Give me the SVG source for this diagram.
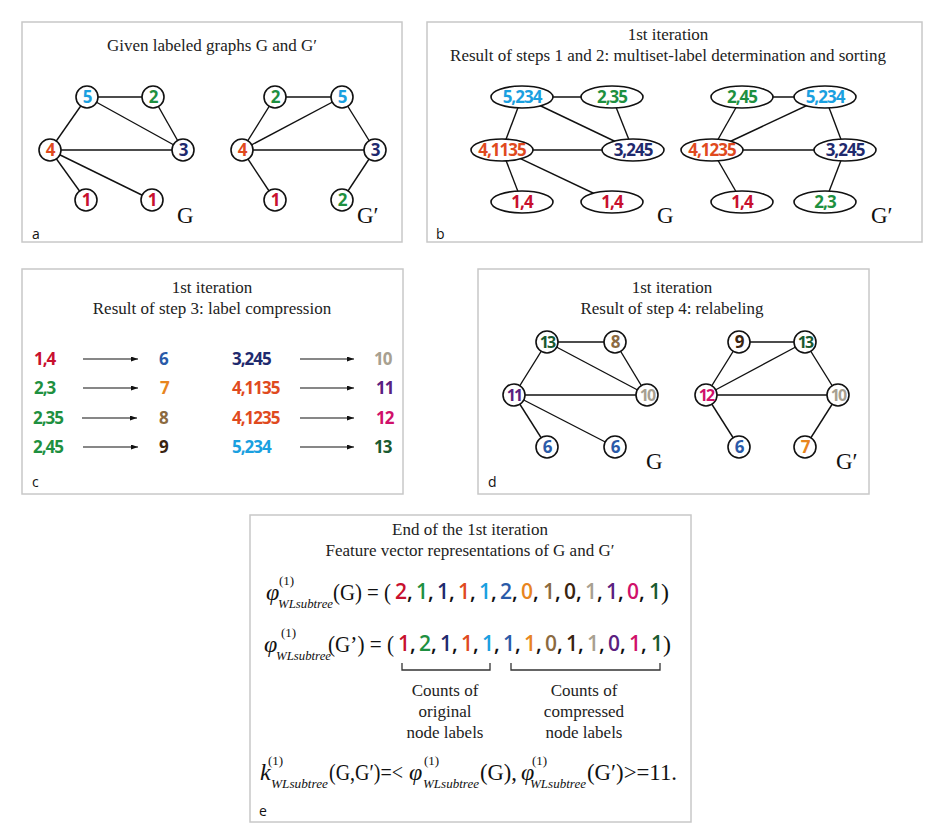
<svg xmlns="http://www.w3.org/2000/svg" width="947" height="838" viewBox="0 0 947 838">
<style>
.panel{fill:#fff;stroke:#c8c8c8;stroke-width:1.5}
.t{font-family:"Liberation Serif",serif;font-size:17px;fill:#222;text-anchor:middle}
.g{font-family:"Liberation Serif",serif;font-size:23px;fill:#111}
.l{font-family:"Open Sans",sans-serif;font-size:14px;fill:#111}
.n circle,.n ellipse{fill:#fff;stroke:#111;stroke-width:1.6}
.n text{font-family:"Open Sans",sans-serif;font-weight:bold;font-size:17px;text-anchor:middle;letter-spacing:-1px}
.n text.w{font-size:16px;letter-spacing:-1.8px}
.e line{stroke:#111;stroke-width:1.4}
.e line.ar{stroke-width:1.1}
.c1{fill:#c8102e}.c2{fill:#1e9040}.c3{fill:#1f2a6e}.c4{fill:#e04a1e}.c5{fill:#1aa0e0}
.c6{fill:#2a5aa8}.c7{fill:#e8851e}.c8{fill:#8b6a40}.c9{fill:#3a2410}.c10{fill:#a8a090}
.c11{fill:#5a2080}.c12{fill:#d0106a}.c13{fill:#1a5a30}
.m{font-family:"Open Sans",sans-serif;font-weight:bold;font-size:17px;letter-spacing:-1px}
.v{font-family:"Open Sans",sans-serif;font-weight:600;font-size:21px}
.s{font-family:"Liberation Serif",serif;font-size:24px;fill:#111}
.ph{font-family:"Liberation Serif",serif;font-style:italic;font-size:24px;fill:#111}
.sup{font-family:"Liberation Serif",serif;font-size:13px;fill:#111}
.sub{font-family:"Liberation Serif",serif;font-style:italic;font-size:13px;fill:#111}
</style>
<defs><marker id="ah" markerUnits="userSpaceOnUse" markerWidth="7" markerHeight="5" refX="7" refY="2.5" orient="auto"><path d="M0,0L7,2.5L0,5z" fill="#111"/></marker></defs>
<rect class="panel" x="22" y="22" width="380" height="220"/>
<rect class="panel" x="427" y="22" width="495" height="220"/>
<rect class="panel" x="22" y="269" width="381" height="225"/>
<rect class="panel" x="478" y="269" width="391" height="225"/>
<rect class="panel" x="250" y="515" width="441" height="307"/>

<g id="panel-a">
<text class="t" x="212" y="51">Given labeled graphs G and G′</text>
<text class="l" x="32" y="239">a</text>
<text class="g" x="177" y="223">G</text><text class="g" x="357" y="223">G′</text>
</g>
<g id="edges" class="e">
<line x1="87" y1="97" x2="153" y2="97"/><line x1="87" y1="97" x2="50" y2="150"/><line x1="87" y1="97" x2="183" y2="150"/><line x1="153" y1="97" x2="183" y2="150"/><line x1="50" y1="150" x2="183" y2="150"/><line x1="50" y1="150" x2="86" y2="200"/><line x1="50" y1="150" x2="152" y2="200"/>
<line x1="275" y1="97" x2="342" y2="97"/><line x1="275" y1="97" x2="242" y2="150"/><line x1="342" y1="97" x2="242" y2="150"/><line x1="342" y1="97" x2="375" y2="150"/><line x1="242" y1="150" x2="375" y2="150"/><line x1="242" y1="150" x2="275" y2="200"/><line x1="375" y1="150" x2="342" y2="200"/>
<line x1="522" y1="97" x2="612" y2="97"/><line x1="522" y1="97" x2="502" y2="150"/><line x1="522" y1="97" x2="633" y2="150"/><line x1="612" y1="97" x2="633" y2="150"/><line x1="502" y1="150" x2="633" y2="150"/><line x1="502" y1="150" x2="522" y2="202"/><line x1="502" y1="150" x2="612" y2="202"/>
<line x1="742" y1="97" x2="825" y2="97"/><line x1="742" y1="97" x2="712" y2="150"/><line x1="825" y1="97" x2="712" y2="150"/><line x1="825" y1="97" x2="845" y2="150"/><line x1="712" y1="150" x2="845" y2="150"/><line x1="712" y1="150" x2="742" y2="202"/><line x1="845" y1="150" x2="825" y2="202"/>
<line x1="547" y1="342" x2="615" y2="342"/><line x1="547" y1="342" x2="514" y2="395"/><line x1="547" y1="342" x2="647" y2="395"/><line x1="615" y1="342" x2="647" y2="395"/><line x1="514" y1="395" x2="647" y2="395"/><line x1="514" y1="395" x2="547" y2="447"/><line x1="514" y1="395" x2="615" y2="447"/>
<line x1="739" y1="342" x2="805" y2="342"/><line x1="739" y1="342" x2="706" y2="395"/><line x1="805" y1="342" x2="706" y2="395"/><line x1="805" y1="342" x2="838" y2="395"/><line x1="706" y1="395" x2="838" y2="395"/><line x1="706" y1="395" x2="739" y2="447"/><line x1="838" y1="395" x2="805" y2="447"/>
<line class="ar" x1="83" y1="359" x2="138" y2="359" marker-end="url(#ah)"/><line class="ar" x1="83" y1="388" x2="138" y2="388" marker-end="url(#ah)"/><line class="ar" x1="82" y1="418" x2="137" y2="418" marker-end="url(#ah)"/><line class="ar" x1="83" y1="447" x2="138" y2="447" marker-end="url(#ah)"/>
<line class="ar" x1="300" y1="359" x2="354" y2="359" marker-end="url(#ah)"/><line class="ar" x1="300" y1="388" x2="354" y2="388" marker-end="url(#ah)"/><line class="ar" x1="300" y1="418" x2="354" y2="418" marker-end="url(#ah)"/><line class="ar" x1="300" y1="447" x2="354" y2="447" marker-end="url(#ah)"/>
</g>
<g id="a-G" class="n">
<g id="a5"><circle cx="87" cy="97" r="11"/><text class="c5" x="87" y="103">5</text></g>
<g id="a2"><circle cx="153" cy="97" r="11"/><text class="c2" x="153" y="103">2</text></g>
<g id="a4"><circle cx="50" cy="150" r="11"/><text class="c4" x="50" y="156">4</text></g>
<g id="a3"><circle cx="183" cy="150" r="11"/><text class="c3" x="183" y="156">3</text></g>
<g id="a1"><circle cx="86" cy="200" r="11"/><text class="c1" x="86" y="206">1</text></g>
<g id="a1b"><circle cx="152" cy="200" r="11"/><text class="c1" x="152" y="206">1</text></g>
</g>
<g id="a-Gp" class="n">
<g id="ap2"><circle cx="275" cy="97" r="11"/><text class="c2" x="275" y="103">2</text></g>
<g id="ap5"><circle cx="342" cy="97" r="11"/><text class="c5" x="342" y="103">5</text></g>
<g id="ap4"><circle cx="242" cy="150" r="11"/><text class="c4" x="242" y="156">4</text></g>
<g id="ap3"><circle cx="375" cy="150" r="11"/><text class="c3" x="375" y="156">3</text></g>
<g id="ap1"><circle cx="275" cy="200" r="11"/><text class="c1" x="275" y="206">1</text></g>
<g id="ap2b"><circle cx="342" cy="200" r="11"/><text class="c2" x="342" y="206">2</text></g>
</g>

<g id="panel-b">
<text class="t" x="668" y="40">1st iteration</text>
<text class="t" x="668" y="61">Result of steps 1 and 2: multiset-label determination and sorting</text>
<text class="l" x="436" y="239">b</text>
<text class="g" x="657" y="223">G</text><text class="g" x="871" y="223">G′</text>
</g>
<g id="b-G" class="n">
<g id="b1"><ellipse cx="522" cy="97" rx="31" ry="11"/><text class="c5" x="522" y="103">5,234</text></g>
<g id="b2"><ellipse cx="612" cy="97" rx="31" ry="11"/><text class="c2" x="612" y="103">2,35</text></g>
<g id="b3"><ellipse cx="502" cy="150" rx="31" ry="11"/><text class="c4" x="502" y="156">4,1135</text></g>
<g id="b4"><ellipse cx="633" cy="150" rx="31" ry="11"/><text class="c3" x="633" y="156">3,245</text></g>
<g id="b5"><ellipse cx="522" cy="202" rx="31" ry="11"/><text class="c1" x="522" y="208">1,4</text></g>
<g id="b6"><ellipse cx="612" cy="202" rx="31" ry="11"/><text class="c1" x="612" y="208">1,4</text></g>
</g>
<g id="b-Gp" class="n">
<g id="bp1"><ellipse cx="742" cy="97" rx="31" ry="11"/><text class="c2" x="742" y="103">2,45</text></g>
<g id="bp2"><ellipse cx="825" cy="97" rx="31" ry="11"/><text class="c5" x="825" y="103">5,234</text></g>
<g id="bp3"><ellipse cx="712" cy="150" rx="31" ry="11"/><text class="c4" x="712" y="156">4,1235</text></g>
<g id="bp4"><ellipse cx="845" cy="150" rx="31" ry="11"/><text class="c3" x="845" y="156">3,245</text></g>
<g id="bp5"><ellipse cx="742" cy="202" rx="31" ry="11"/><text class="c1" x="742" y="208">1,4</text></g>
<g id="bp6"><ellipse cx="825" cy="202" rx="31" ry="11"/><text class="c2" x="825" y="208">2,3</text></g>
</g>

<g id="panel-c">
<text class="t" x="212" y="293">1st iteration</text>
<text class="t" x="212" y="314">Result of step 3: label compression</text>
<text class="l" x="32" y="487">c</text>
<g class="m">
<text class="c1" x="34" y="365">1,4</text><text class="c2" x="34" y="394">2,3</text><text class="c2" x="33" y="424">2,35</text><text class="c2" x="33" y="453">2,45</text>
<text class="c6" x="159" y="365">6</text><text class="c7" x="160" y="394">7</text><text class="c8" x="159" y="424">8</text><text class="c9" x="159" y="453">9</text>
<text class="c3" x="232" y="365">3,245</text><text class="c4" x="232" y="394">4,1135</text><text class="c4" x="232" y="424">4,1235</text><text class="c5" x="232" y="453">5,234</text>
<text class="c10" x="374" y="365">10</text><text class="c11" x="376" y="394">11</text><text class="c12" x="376" y="424">12</text><text class="c13" x="374" y="453">13</text>
</g>
</g>

<g id="panel-d">
<text class="t" x="672" y="293">1st iteration</text>
<text class="t" x="672" y="314">Result of step 4: relabeling</text>
<text class="l" x="488" y="487">d</text>
<text class="g" x="646" y="469">G</text><text class="g" x="836" y="469">G′</text>
</g>
<g id="d-G" class="n">
<g id="d13"><circle cx="547" cy="342" r="11"/><text class="c13 w" x="547" y="348">13</text></g>
<g id="d8"><circle cx="615" cy="342" r="11"/><text class="c8" x="615" y="348">8</text></g>
<g id="d11"><circle cx="514" cy="395" r="11"/><text class="c11 w" x="514" y="401">11</text></g>
<g id="d10"><circle cx="647" cy="395" r="11"/><text class="c10 w" x="647" y="401">10</text></g>
<g id="d6"><circle cx="547" cy="447" r="11"/><text class="c6" x="547" y="453">6</text></g>
<g id="d6b"><circle cx="615" cy="447" r="11"/><text class="c6" x="615" y="453">6</text></g>
</g>
<g id="d-Gp" class="n">
<g id="dp9"><circle cx="739" cy="342" r="11"/><text class="c9" x="739" y="348">9</text></g>
<g id="dp13"><circle cx="805" cy="342" r="11"/><text class="c13 w" x="805" y="348">13</text></g>
<g id="dp12"><circle cx="706" cy="395" r="11"/><text class="c12 w" x="706" y="401">12</text></g>
<g id="dp10"><circle cx="838" cy="395" r="11"/><text class="c10 w" x="838" y="401">10</text></g>
<g id="dp6"><circle cx="739" cy="447" r="11"/><text class="c6" x="739" y="453">6</text></g>
<g id="dp7"><circle cx="805" cy="447" r="11"/><text class="c7" x="805" y="453">7</text></g>
</g>

<g id="panel-e">
<text class="t" x="470" y="535">End of  the 1st iteration</text>
<text class="t" x="470" y="556">Feature vector representations of G and G′</text>
<text class="l" x="259" y="816">e</text>
<text class="ph" x="266" y="600">φ</text><text class="sup" x="279" y="585">(1)</text><text class="sub" x="278" y="608" textLength="55" lengthAdjust="spacingAndGlyphs">WLsubtree</text>
<text class="s" x="333" y="600" textLength="58" lengthAdjust="spacingAndGlyphs">(G) = (</text>
<text class="v" y="599"><tspan x="395" class="c1">2</tspan><tspan fill="#111">,</tspan><tspan x="416" class="c2">1</tspan><tspan fill="#111">,</tspan><tspan x="437" class="c3">1</tspan><tspan fill="#111">,</tspan><tspan x="458" class="c4">1</tspan><tspan fill="#111">,</tspan><tspan x="479" class="c5">1</tspan><tspan fill="#111">,</tspan><tspan x="500" class="c6">2</tspan><tspan fill="#111">,</tspan><tspan x="521" class="c7">0</tspan><tspan fill="#111">,</tspan><tspan x="543" class="c8">1</tspan><tspan fill="#111">,</tspan><tspan x="564" class="c9">0</tspan><tspan fill="#111">,</tspan><tspan x="585" class="c10">1</tspan><tspan fill="#111">,</tspan><tspan x="606" class="c11">1</tspan><tspan fill="#111">,</tspan><tspan x="627" class="c12">0</tspan><tspan fill="#111">,</tspan><tspan x="649" class="c13">1</tspan></text>
<text class="s" x="661" y="600">)</text>
<text class="ph" x="264" y="652">φ</text><text class="sup" x="281" y="637">(1)</text><text class="sub" x="276" y="660" textLength="55" lengthAdjust="spacingAndGlyphs">WLsubtree</text>
<text class="s" x="328" y="652" textLength="66" lengthAdjust="spacingAndGlyphs">(G’) = (</text>
<text class="v" y="651"><tspan x="398" class="c1">1</tspan><tspan fill="#111">,</tspan><tspan x="419" class="c2">2</tspan><tspan fill="#111">,</tspan><tspan x="440" class="c3">1</tspan><tspan fill="#111">,</tspan><tspan x="461" class="c4">1</tspan><tspan fill="#111">,</tspan><tspan x="482" class="c5">1</tspan><tspan fill="#111">,</tspan><tspan x="503" class="c6">1</tspan><tspan fill="#111">,</tspan><tspan x="524" class="c7">1</tspan><tspan fill="#111">,</tspan><tspan x="545" class="c8">0</tspan><tspan fill="#111">,</tspan><tspan x="566" class="c9">1</tspan><tspan fill="#111">,</tspan><tspan x="587" class="c10">1</tspan><tspan fill="#111">,</tspan><tspan x="608" class="c11">0</tspan><tspan fill="#111">,</tspan><tspan x="629" class="c12">1</tspan><tspan fill="#111">,</tspan><tspan x="651" class="c13">1</tspan></text>
<text class="s" x="663" y="652">)</text>
<path d="M402,663V670H490V663M511,663V670H660V663" fill="none" stroke="#333" stroke-width="1.3"/>
<text class="t" x="445" y="696">Counts of</text><text class="t" x="445" y="717">original</text><text class="t" x="445" y="738">node labels</text>
<text class="t" x="584" y="696">Counts of</text><text class="t" x="584" y="717">compressed</text><text class="t" x="584" y="738">node labels</text>
<text class="ph" x="260" y="780">k</text><text class="sup" x="268" y="765">(1)</text><text class="sub" x="271" y="788" textLength="57" lengthAdjust="spacingAndGlyphs">WLsubtree</text>
<text class="s" x="329" y="780" textLength="74" lengthAdjust="spacingAndGlyphs">(G,G′)=&lt;</text>
<text class="ph" x="409" y="780">φ</text><text class="sup" x="424" y="765">(1)</text><text class="sub" x="423" y="788" textLength="56" lengthAdjust="spacingAndGlyphs">WLsubtree</text>
<text class="s" x="480" y="780" textLength="37" lengthAdjust="spacingAndGlyphs">(G),</text>
<text class="ph" x="521" y="780">φ</text><text class="sup" x="532" y="765">(1)</text><text class="sub" x="530" y="788" textLength="56" lengthAdjust="spacingAndGlyphs">WLsubtree</text>
<text class="s" x="587" y="780" textLength="90" lengthAdjust="spacingAndGlyphs">(G′)&gt;=11.</text>
</g>
</svg>
